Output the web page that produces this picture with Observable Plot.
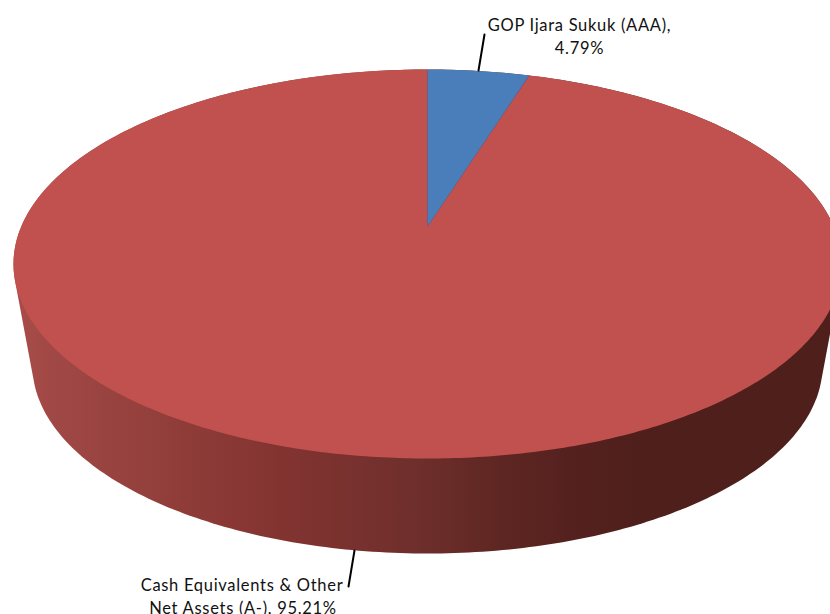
<!DOCTYPE html>
<html>
<head>
<meta charset="utf-8">
<style>
  html, body { margin: 0; padding: 0; background: #fff; }
  svg { display: block; }
  svg text { letter-spacing: 0.7px; }
</style>
<script src="https://cdn.jsdelivr.net/npm/d3@7"></script>
<script src="https://cdn.jsdelivr.net/npm/@observablehq/plot@0.6"></script>
</head>
<body>
<script>
// Portfolio allocation, clockwise from twelve o'clock
const assets = ["GOP Ijara Sukuk (AAA)", "Cash Equivalents & Other Net Assets (A-)"];
const shares = [4.79, 95.21];
const sliceColors = ["#4a7ebb", "#c1514e"];

// Tilted disc: outline of the top face and of the base, in page units
const top_ = {cx: 427, cy: 263.5, rx: 414, ry: 194.5};
const base = {cx: 427, cy: 365, rx: 395, ry: 188};
const tilt = 0.193; // how far perspective lifts the disc's centre

// Side wall shading, left to right
const wallStops = [
  [0, "#a84c49"], [0.05, "#a04845"], [0.17, "#933f3c"], [0.31, "#843431"],
  [0.485, "#6f2f2c"], [0.59, "#5e2622"], [0.67, "#55211f"], [0.75, "#4f1f1b"], [1, "#4f201b"]
];

const ellipsePoints = (e, n = 360) =>
  d3.range(n).map((i) => {
    const t = (i / n) * 2 * Math.PI;
    return [e.cx + e.rx * Math.sin(t), e.cy - e.ry * Math.cos(t)];
  });

// A point at polar angle t and radius r on the disc, seen in perspective
const onDisc = (t, r = 1) => {
  const X = r * Math.sin(t), Y = r * Math.cos(t), w = 1 + tilt * Y;
  return [
    top_.cx + (top_.rx * X * Math.sqrt(1 - tilt * tilt)) / w,
    top_.cy - (top_.ry * (Y + tilt)) / w
  ];
};

const total = d3.sum(shares);
let running = 0;
const wedges = shares.map((s) => {
  const a0 = (running / total) * 2 * Math.PI;
  running += s;
  const a1 = (running / total) * 2 * Math.PI;
  const n = Math.max(2, Math.ceil((a1 - a0) * 90));
  return [onDisc(0, 0), ...d3.range(n + 1).map((i) => onDisc(a0 + ((a1 - a0) * i) / n))];
});

const wallOutline = d3.polygonHull([...ellipsePoints(top_), ...ellipsePoints(base)]);

const labelFont = {fontFamily: "Lato, Carlito, sans-serif", fontSize: 16.5, fill: "#111"};

const chart = Plot.plot({
  width: 830,
  height: 614,
  margin: 0,
  x: {domain: [0, 830], range: [0, 830], axis: null},
  y: {domain: [0, 614], range: [0, 614], axis: null},
  marks: [
    Plot.line(wallOutline, {x: "0", y: "1", fill: "url(#wall)", stroke: "none", curve: "linear-closed"}),
    // the large slice goes first so the small one sits on top of it
    Plot.line(wedges[1], {x: "0", y: "1", fill: sliceColors[1], stroke: "none", curve: "linear-closed"}),
    Plot.line(wedges[0], {x: "0", y: "1", fill: sliceColors[0], stroke: "none", curve: "linear-closed"}),
    Plot.line([[484, 34], [478, 70]], {x: "0", y: "1", stroke: "#000", strokeWidth: 2}),
    Plot.line([[354, 550], [348, 586]], {x: "0", y: "1", stroke: "#000", strokeWidth: 2}),
    Plot.text([`${assets[0]},`], {x: 579, y: 25, text: (d) => d, ...labelFont}),
    Plot.text([`${shares[0].toFixed(2)}%`], {x: 579, y: 48, text: (d) => d, ...labelFont}),
    Plot.text(["Cash Equivalents & Other"], {x: 241.5, y: 585, text: (d) => d, ...labelFont}),
    Plot.text([`Net Assets (A-), ${shares[1].toFixed(2)}%`], {x: 242.5, y: 608, text: (d) => d, ...labelFont})
  ]
});

// Horizontal shading for the side wall
const gradient = d3.select(chart).append("defs").append("linearGradient")
  .attr("id", "wall")
  .attr("gradientUnits", "userSpaceOnUse")
  .attr("x1", top_.cx - top_.rx).attr("x2", top_.cx + top_.rx)
  .attr("y1", 0).attr("y2", 0);
wallStops.forEach(([o, c]) => gradient.append("stop").attr("offset", o).attr("stop-color", c));

document.body.append(chart);
</script>
</body>
</html>
